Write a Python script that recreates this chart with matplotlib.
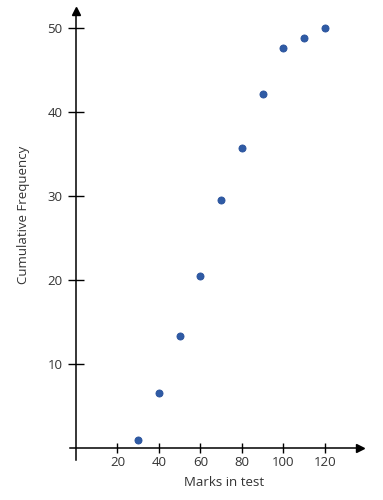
import numpy as np
import matplotlib.pyplot as plt

plt.rcParams['font.family'] = ['Open Sans', 'DejaVu Sans']

# data
marks = [30, 40, 50, 60, 70, 80, 90, 100, 110, 120]
cum_freq = [1, 6.6, 13.3, 20.5, 29.5, 35.7, 42.1, 47.6, 48.8, 50]
x_ticks = [20, 40, 60, 80, 100, 120]
y_ticks = [10, 20, 30, 40, 50]

fig = plt.figure(figsize=(3.83, 5), dpi=100)
ax = fig.add_axes([0, 0, 1, 1])
ax.set_xlim(-36.6, 148)
ax.set_ylim(-6.19, 53.33)

# axes through the origin, with arrow heads
for side in ['top', 'right']:
    ax.spines[side].set_visible(False)
ax.spines['left'].set_position(('data', 0))
ax.spines['bottom'].set_position(('data', 0))
ax.spines['left'].set_bounds(-1.4, 51.5)
ax.spines['bottom'].set_bounds(-3, 136)
ax.spines['left'].set_linewidth(1.1)
ax.spines['bottom'].set_linewidth(1.1)
ax.plot(137, 0, '>', color='black', markersize=6, clip_on=False)
ax.plot(0, 52, '^', color='black', markersize=6, clip_on=False)

ax.scatter(marks, cum_freq, s=26, color='#2F5BA5', edgecolors='#27509A',
           linewidths=0.6, zorder=3)

ax.set_xticks(x_ticks)
ax.set_yticks(y_ticks)
ax.tick_params(axis='x', direction='inout', length=7.5, width=1, pad=2,
               labelsize=9.5)
ax.tick_params(axis='y', direction='inout', length=12, width=1, pad=3.5,
               labelsize=9.5)
ax.tick_params(colors='black', labelcolor='#333333')

fig.text(0.585, 0.036, 'Marks in test', ha='center', va='center',
         fontsize=9.5, color='#333333')
fig.text(0.062, 0.57, 'Cumulative Frequency', ha='center', va='center',
         rotation=90, fontsize=9.5, color='#333333')

fig.savefig('out.png', dpi=100)
